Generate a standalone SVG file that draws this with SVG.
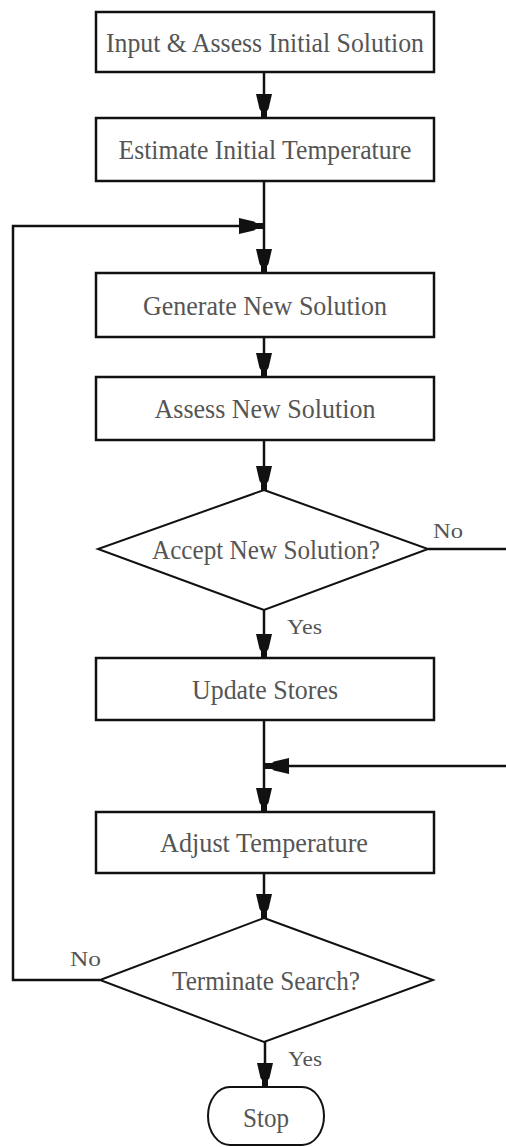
<svg xmlns="http://www.w3.org/2000/svg" width="506" height="1147" viewBox="0 0 506 1147">
<style>
.box{fill:#fff;stroke:#111;stroke-width:2.5}
.dia{fill:#fff;stroke:#111;stroke-width:2}
.ln{fill:none;stroke:#111;stroke-width:2.5}
.t{font-family:"Liberation Serif",serif;font-size:28px;fill:#555;text-anchor:middle}
.l{font-family:"Liberation Serif",serif;font-size:22px;fill:#555}
</style>
<defs>
<marker id="ah" markerUnits="userSpaceOnUse" markerWidth="30" markerHeight="20" viewBox="-25 -10 30 20" refX="0" refY="0" orient="auto">
<path d="M-24,-8 L-9,-4.5 L-7,-3 L0,-3 L0,3 L-7,3 L-9,4.5 L-24,8 Z" fill="#111"/>
</marker>
</defs>
<rect width="506" height="1147" fill="#fff"/>
<g id="connectors">
<path class="ln" d="M264,72 V118" marker-end="url(#ah)"/>
<path class="ln" d="M264,181 V273" marker-end="url(#ah)"/>
<path class="ln" d="M100,980 H13 V226 H263" marker-end="url(#ah)"/>
<path class="ln" d="M264,337 V377" marker-end="url(#ah)"/>
<path class="ln" d="M264,440 V490" marker-end="url(#ah)"/>
<path class="ln" d="M428,549 H506"/>
<path class="ln" d="M264,610 V658" marker-end="url(#ah)"/>
<path class="ln" d="M264,720 V812" marker-end="url(#ah)"/>
<path class="ln" d="M506,766 H265" marker-end="url(#ah)"/>
<path class="ln" d="M264,873 V918" marker-end="url(#ah)"/>
<path class="ln" d="M265,1042 V1087" marker-end="url(#ah)"/>
<text class="l" x="433" y="538" textLength="30" lengthAdjust="spacingAndGlyphs">No</text>
<text class="l" x="287" y="634" textLength="35" lengthAdjust="spacingAndGlyphs">Yes</text>
<text class="l" x="70" y="966" textLength="31" lengthAdjust="spacingAndGlyphs">No</text>
<text class="l" x="288" y="1066" textLength="34" lengthAdjust="spacingAndGlyphs">Yes</text>
</g>
<g id="n1"><rect class="box" x="96" y="12" width="338" height="60"/><text class="t" x="265" y="52" textLength="318" lengthAdjust="spacingAndGlyphs">Input &amp; Assess Initial Solution</text></g>
<g id="n2"><rect class="box" x="96" y="118" width="338" height="63"/><text class="t" x="265" y="159" textLength="293" lengthAdjust="spacingAndGlyphs">Estimate Initial Temperature</text></g>
<g id="n3"><rect class="box" x="96" y="273" width="338" height="64"/><text class="t" x="265" y="315" textLength="244" lengthAdjust="spacingAndGlyphs">Generate New Solution</text></g>
<g id="n4"><rect class="box" x="96" y="377" width="338" height="63"/><text class="t" x="265" y="418" textLength="221" lengthAdjust="spacingAndGlyphs">Assess New Solution</text></g>
<g id="n5"><polygon class="dia" points="264,490 428,549 264,610 98,549"/><text class="t" x="266" y="559" textLength="228" lengthAdjust="spacingAndGlyphs">Accept New Solution?</text></g>
<g id="n6"><rect class="box" x="96" y="658" width="338" height="62"/><text class="t" x="265" y="699" textLength="146" lengthAdjust="spacingAndGlyphs">Update Stores</text></g>
<g id="n7"><rect class="box" x="96" y="812" width="338" height="61"/><text class="t" x="264" y="852" textLength="208" lengthAdjust="spacingAndGlyphs">Adjust Temperature</text></g>
<g id="n8"><polygon class="dia" points="264,918 433,980 264,1042 100,980"/><text class="t" x="266" y="990" textLength="188" lengthAdjust="spacingAndGlyphs">Terminate Search?</text></g>
<g id="n9"><rect class="dia" x="208" y="1087" width="116" height="58" rx="22" ry="29"/><text class="t" x="266" y="1127" textLength="46" lengthAdjust="spacingAndGlyphs">Stop</text></g>
</svg>
